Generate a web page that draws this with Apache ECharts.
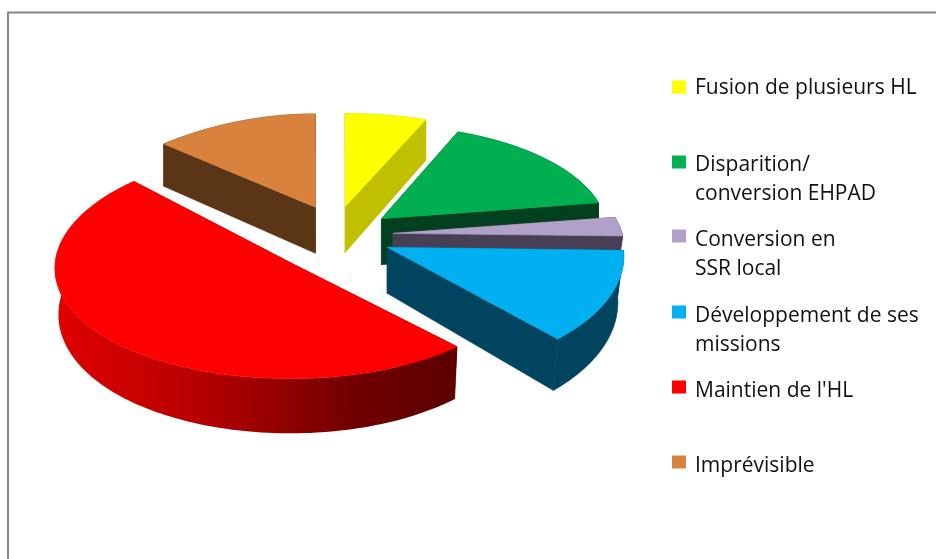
<!DOCTYPE html>
<html><head><meta charset="utf-8">
<style>html,body{margin:0;padding:0;background:#fff}#c{width:936px;height:559px}</style>
<script src="https://cdn.jsdelivr.net/npm/echarts@6/dist/echarts.min.js"></script>
</head><body><div id="c"></div>
<script>
const categories = ["Fusion de plusieurs HL","Disparition/\nconversion EHPAD","Conversion en\nSSR local","Développement de ses\nmissions","Maintien de l'HL","Imprévisible"];
const values = [6.2,16.3,2.9,12.6,49.9,12.1];
const topColors = ['#ffff00','#00b050','#b1a0c7','#00b0f0','#ff0000','#d8823e'];
const sideColors = ['#c0c000','#03401f','#473f55','#004460','#600000','#5a3516'];

// layout of the pseudo-3D projection, one lens per slice
const center = [336,235], depth = 46;
const lens = [
  {A:236,B:104.5,Kx:0.123,Ky:0.123,w:1,h:1.06},
  {A:224,B:104.5,Kx:0.123,Ky:0.123,w:1,h:1.06},
  {A:229,B:104.5,Kx:0.123,Ky:0.123,w:0.97,h:1.06},
  {A:236,B:119,Kx:0.0725,Ky:0.0725,w:0.975,h:1.06},
  {A:235,B:113.7,Kx:0.05,Ky:0.02,w:0.985,h:1.075},
  {A:236,B:74.6,Kx:0.1,Ky:-0.2,w:1,h:1.06}
];
const explode = [0.30,0.27,0.24,0.23,0.25,0.25];
const nudge = [[-3,-1],[-1,0],[1,0],[-1,2],[1,8],[-1,-6]];
const drawOrder = [5,0,1,2,3,4];
const legendCenters = [87,162,236,312,387,462];
const textDrops = [1.5,3,4,4,4,4];
const lineH = 29.5;

const total = values.reduce((a,b)=>a+b,0);
const bounds = []; let acc = 0;
values.forEach(v=>{ bounds.push([acc/total*2*Math.PI,(acc+v)/total*2*Math.PI]); acc+=v; });

function dir(t){ const X=Math.sin(t),Y=Math.cos(t),d=1+0.123*Y; return [236*X/d,-104.5*Y/d]; }
function proj(t,l){ const X=Math.sin(t),Y=Math.cos(t); return [l.A*X/(1+l.Kx*Y),-l.B*Y/(1+l.Ky*Y)]; }
function apexOf(i){ const [a,b]=bounds[i],p=dir((a+b)/2);
  return [center[0]+explode[i]*p[0]+nudge[i][0], center[1]+explode[i]*p[1]+nudge[i][1]]; }

function renderSlice(i){ return function(params,api){
  api.value(0);
  const [a,b]=bounds[i], ap=apexOf(i), l=lens[i], n=Math.max(10,Math.ceil((b-a)*40));
  const arc=[]; for(let k=0;k<=n;k++) arc.push(proj(a+(b-a)*k/n,l));
  const topArc=arc.map(o=>[ap[0]+o[0],ap[1]+o[1]]);
  const botArc=arc.map(o=>[ap[0]+o[0]*l.w,ap[1]+o[1]*l.h+depth]);
  const apBot=[ap[0],ap[1]+depth];
  const side=sideColors[i];
  const wallFill = i===4 ? {type:'linear',x:0,y:0,x2:1,y2:0,colorStops:[
      {offset:0,color:'#e00000'},{offset:0.35,color:'#b80000'},{offset:0.75,color:'#700000'},{offset:1,color:'#5c0000'}]} : side;
  const poly=(pts,fill,stroke)=>({type:'polygon',shape:{points:pts},style:{fill:fill,stroke:stroke||null,lineWidth:stroke?0.6:0},silent:true});
  return {type:'group',children:[
    poly([ap,topArc[0],botArc[0],apBot],side,side),
    poly([ap,topArc[n],botArc[n],apBot],side,side),
    poly(topArc.concat(botArc.slice().reverse()),wallFill,i===4?null:side),
    poly([ap].concat(topArc),topColors[i],topColors[i])
  ]};
};}

const series = drawOrder.map(i=>({
  type:'custom',name:categories[i],coordinateSystem:'none',
  data:[values[i]],itemStyle:{color:topColors[i]},renderItem:renderSlice(i),silent:true,animation:false
}));

const legend = categories.map((name,i)=>{
  const multi = name.indexOf('\n')>=0;
  // a spacer line above the text keeps the swatch level with the first text line
  const spacer = multi ? lineH+2*textDrops[i] : 2*textDrops[i];
  const blockH = spacer + (multi?2:1)*lineH;
  const tstyle = {fontFamily:'Open Sans',fontSize:21,color:'#111',lineHeight:lineH,padding:[0,0,0,4]};
  return {
    data:[name],left:672,top:legendCenters[i]-blockH/2,padding:0,orient:'vertical',icon:'rect',
    itemWidth:14,itemHeight:13,selectedMode:false,
    formatter:n=>'{s|\u200b}\n'+n.split('\n').map(x=>'{t|'+x+'}').join('\n'),
    textStyle:{fontFamily:'Open Sans',fontSize:21,color:'#111',
      rich:{s:{lineHeight:spacer,height:spacer,fontSize:1},t:tstyle}}
  };
});

const chart = echarts.init(document.getElementById('c'),null,{renderer:'canvas'});
chart.setOption({
  animation:false,backgroundColor:'#fff',legend:legend,series:series,
  graphic:[{type:'rect',shape:{x:8,y:12.5,width:1400,height:1400},style:{fill:'none',stroke:'#868686',lineWidth:2},silent:true,z:-1}]
});
</script></body></html>
